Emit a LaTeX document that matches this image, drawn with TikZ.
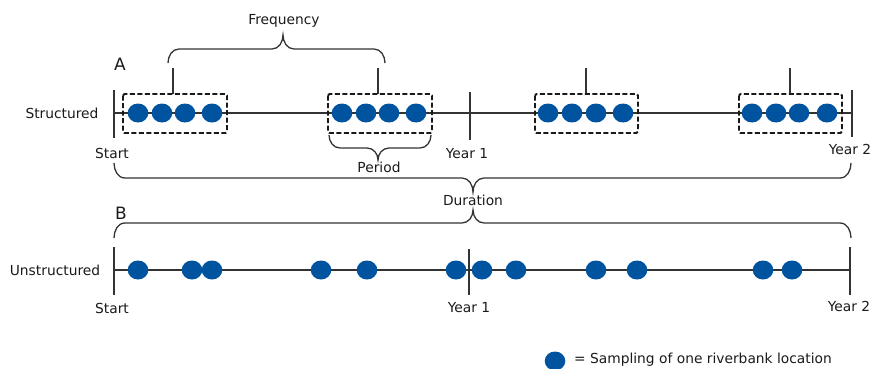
\documentclass[tikz,border=0pt]{standalone}
\usepackage{fontspec}
\setmainfont{DejaVu Sans}
\definecolor{linec}{HTML}{333333}
\definecolor{dotblue}{HTML}{00549F}
\definecolor{txt}{HTML}{1A1A1A}
% tip-down brace: x1 x2 yends yline xtip ytip
\newcommand\bracedn[6]{\draw[brc] (#1,#3) to[out=-90,in=180] ({#1+11},#4) -- ({#5-11},#4) to[out=0,in=90] (#5,#6) to[out=90,in=180] ({#5+11},#4) -- ({#2-11},#4) to[out=0,in=-90] (#2,#3);}
\newcommand\braceupp[6]{\draw[brc] (#1,#3) to[out=90,in=180] ({#1+11},#4) -- ({#5-11},#4) to[out=0,in=-90] (#5,#6) to[out=-90,in=180] ({#5+11},#4) -- ({#2-11},#4) to[out=0,in=90] (#2,#3);}
\begin{document}
\begin{tikzpicture}[x=1pt,y=-1pt,
  every node/.style={font=\fontsize{13.8}{16}\selectfont, text=txt, inner sep=0pt},
  axis/.style={draw=linec, line width=1.4pt},
  brc/.style={draw=linec, line width=1.3pt},
  dbox/.style={draw=black!90, line width=1.8pt, dash pattern=on 5pt off 2.5pt, rounded corners=1.5pt},
  dotc/.style={fill=dotblue}]
\useasboundingbox (0,0) rectangle (872,369);

% ---------- Row A ----------
\draw[axis] (114,113) -- (852,113);
\draw[axis] (114,90) -- (114,138);
\draw[axis] (470,92) -- (470,140);
\draw[axis] (852,90) -- (852,137);

\node (struct) at (62,113) {Structured};
\node[font=\fontsize{17}{19}\selectfont] (labA) at (120,64) {A};
\node (startA) at (112,153) {Start};
\node (y1A) at (467,154) {Year 1};
\node (y2A) at (850,149) {Year 2};

% stems
\draw[axis] (173,68) -- (173,94);
\draw[axis] (378,68) -- (378,94);
\draw[axis] (586,68) -- (586,94);
\draw[axis] (790,68) -- (790,94);

% dots and boxes
\foreach \x in {138,162,185,212, 342,366,389,416, 548,572,596,623, 752,776,799,827}
  \fill[dotc] (\x,113) ellipse [x radius=10.3pt, y radius=9.5pt];
\draw[dbox] (123,94) rectangle (227,133);
\draw[dbox] (328,94) rectangle (432,133);
\draw[dbox] (535,94) rectangle (638,133);
\draw[dbox] (739,94) rectangle (842,133);

% braces
\braceupp{168}{385}{63}{49}{283}{35}
\node (freq) at (284,21) {Frequency};
\bracedn{329}{431}{135}{148}{378}{160}
\node (period) at (379,167) {Period};
\bracedn{114}{851}{163}{178}{473}{192}
\node (dur) at (473,200) {Duration};
\braceupp{114}{851}{238}{223}{473}{210}

% ---------- Row B ----------
\node[font=\fontsize{17}{19}\selectfont] (labB) at (121,213) {B};
\draw[axis] (114,270) -- (850,270);
\draw[axis] (114,247) -- (114,295);
\draw[axis] (469,249) -- (469,295);
\draw[axis] (850,247) -- (850,295);
\foreach \x in {138,192,212,321,367,456,482,516,596,637,763,792}
  \fill[dotc] (\x,270) ellipse [x radius=10.3pt, y radius=9.5pt];
\node (unstruct) at (55,270) {Unstructured};
\node (startB) at (112,308) {Start};
\node (y1B) at (469,308) {Year 1};
\node (y2B) at (849,306) {Year 2};

% ---------- Legend ----------
\fill[dotc] (555,361) ellipse [x radius=10.3pt, y radius=9.5pt];
\node[anchor=west] (legend) at (574,360) {= Sampling of one riverbank location};
\end{tikzpicture}
\end{document}
